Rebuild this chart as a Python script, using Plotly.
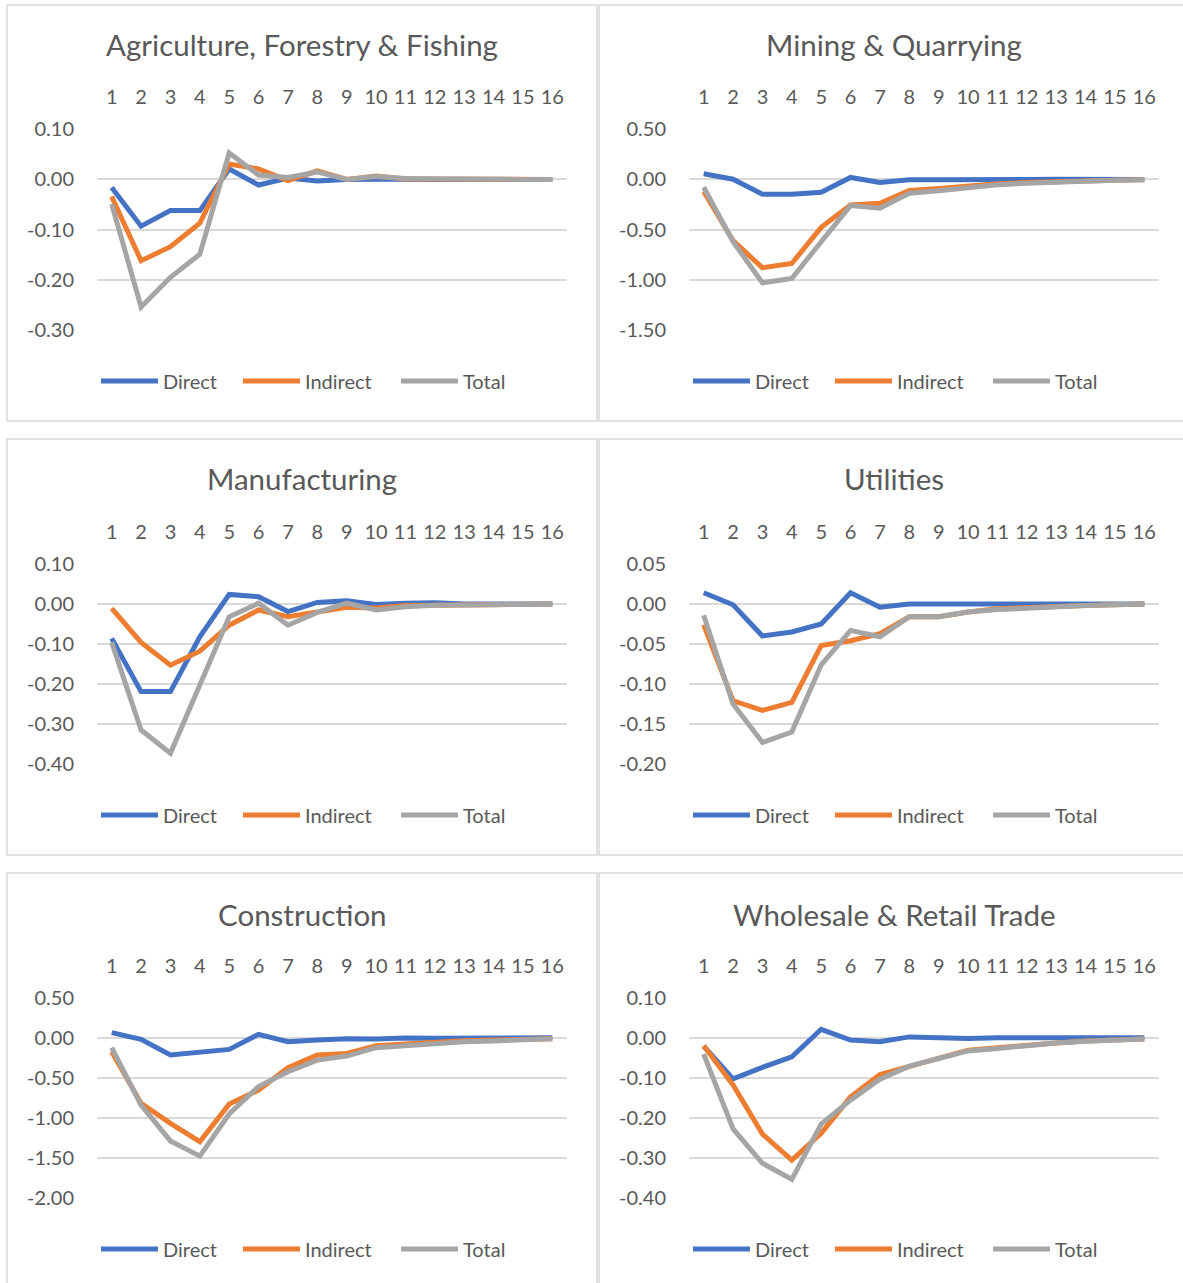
import plotly.graph_objects as go

periods = list(range(1, 17))
sectors = ["Agriculture, Forestry & Fishing", "Mining & Quarrying", "Manufacturing",
           "Utilities", "Construction", "Wholesale & Retail Trade"]
series_names = ["Direct", "Indirect", "Total"]

agri_direct = [-0.016, -0.093, -0.062, -0.062, 0.021, -0.011, 0.003, -0.003, 0.000, 0.001, 0.001, 0.000, 0.000, 0.000, 0.000, 0.000]
agri_indirect = [-0.034, -0.162, -0.134, -0.087, 0.031, 0.021, -0.002, 0.017, 0.000, 0.007, 0.001, 0.001, 0.001, 0.000, 0.000, 0.000]
agri_total = [-0.049, -0.254, -0.195, -0.149, 0.053, 0.009, 0.004, 0.015, 0.000, 0.006, 0.002, 0.001, 0.001, 0.000, 0.000, 0.000]

mining_direct = [0.057, 0.003, -0.147, -0.147, -0.127, 0.020, -0.030, -0.003, -0.003, -0.005, 0.005, 0.000, 0.002, 0.001, 0.000, 0.000]
mining_indirect = [-0.120, -0.610, -0.880, -0.837, -0.477, -0.253, -0.237, -0.110, -0.090, -0.063, -0.043, -0.030, -0.020, -0.013, -0.007, -0.003]
mining_total = [-0.077, -0.620, -1.030, -0.987, -0.620, -0.260, -0.287, -0.137, -0.113, -0.080, -0.053, -0.037, -0.023, -0.013, -0.007, -0.003]

manuf_direct = [-0.086, -0.219, -0.219, -0.082, 0.024, 0.018, -0.019, 0.004, 0.008, -0.001, 0.002, 0.003, 0.000, 0.000, 0.001, 0.000]
manuf_indirect = [-0.011, -0.096, -0.153, -0.118, -0.053, -0.015, -0.032, -0.019, -0.008, -0.010, -0.004, -0.003, -0.003, -0.002, -0.001, 0.000]
manuf_total = [-0.096, -0.315, -0.373, -0.200, -0.032, 0.002, -0.053, -0.021, 0.002, -0.015, -0.007, -0.003, -0.004, -0.002, -0.001, 0.000]

util_direct = [0.014, -0.001, -0.040, -0.035, -0.025, 0.014, -0.004, 0.000, 0.000, 0.000, 0.000, 0.000, 0.000, 0.000, 0.000, 0.000]
util_indirect = [-0.026, -0.121, -0.133, -0.123, -0.052, -0.046, -0.037, -0.016, -0.016, -0.010, -0.006, -0.004, -0.003, -0.002, -0.001, 0.000]
util_total = [-0.014, -0.125, -0.173, -0.160, -0.076, -0.033, -0.041, -0.016, -0.016, -0.010, -0.007, -0.005, -0.003, -0.002, -0.001, 0.000]

constr_direct = [0.063, -0.021, -0.217, -0.188, -0.146, 0.042, -0.050, -0.029, -0.013, -0.017, -0.004, -0.008, -0.004, -0.004, -0.004, 0.000]
constr_indirect = [-0.175, -0.820, -1.070, -1.300, -0.830, -0.654, -0.375, -0.217, -0.196, -0.100, -0.079, -0.054, -0.038, -0.029, -0.021, -0.013]
constr_total = [-0.125, -0.842, -1.290, -1.480, -0.954, -0.610, -0.425, -0.280, -0.230, -0.125, -0.100, -0.070, -0.050, -0.040, -0.025, -0.013]

trade_direct = [-0.021, -0.103, -0.074, -0.048, 0.021, -0.006, -0.010, 0.002, 0.000, -0.002, 0.000, 0.000, 0.000, 0.000, 0.000, 0.000]
trade_indirect = [-0.020, -0.118, -0.241, -0.306, -0.239, -0.148, -0.092, -0.071, -0.052, -0.031, -0.025, -0.018, -0.013, -0.008, -0.006, -0.003]
trade_total = [-0.041, -0.228, -0.314, -0.354, -0.216, -0.156, -0.104, -0.071, -0.052, -0.033, -0.027, -0.019, -0.013, -0.009, -0.006, -0.003]

# y-axis tick values per panel
agri_ticks = [0.10, 0.00, -0.10, -0.20, -0.30]
mining_ticks = [0.50, 0.00, -0.50, -1.00, -1.50]
manuf_ticks = [0.10, 0.00, -0.10, -0.20, -0.30, -0.40]
util_ticks = [0.05, 0.00, -0.05, -0.10, -0.15, -0.20]
constr_ticks = [0.50, 0.00, -0.50, -1.00, -1.50, -2.00]
trade_ticks = [0.10, 0.00, -0.10, -0.20, -0.30, -0.40]

panel_data = [
    (agri_direct, agri_indirect, agri_total, agri_ticks),
    (mining_direct, mining_indirect, mining_total, mining_ticks),
    (manuf_direct, manuf_indirect, manuf_total, manuf_ticks),
    (util_direct, util_indirect, util_total, util_ticks),
    (constr_direct, constr_indirect, constr_total, constr_ticks),
    (trade_direct, trade_indirect, trade_total, trade_ticks),
]

# ---- styling / layout ----
W, H = 1183, 1283
colors = ["#4472C4", "#ED7D31", "#A5A5A5"]
legend_widths = [70, 86, 50]
text_color = "#595959"
grid_color = "#D9D9D9"
FONT = "Lato"

col_x = [(97, 567), (689, 1159)]           # plot area left/right (px)
col_center = [302, 894]
col_legend = [96, 688]
col_border = [(7, 597), (599, 1189)]
row_plot = [(129.3, 330), (564, 764), (997.7, 1197.7)]  # top/bottom (px)
row_title = [45, 479, 914]
row_legend = [381, 815, 1249]
row_border = [(5, 421), (439, 855), (873, 1289)]

def py(v):
    return 1 - v / H

def px(v):
    return v / W

fig = go.Figure()
layout = dict(
    width=W, height=H, autosize=False,
    margin=dict(l=0, r=0, t=0, b=0, pad=0, autoexpand=False),
    paper_bgcolor="white", plot_bgcolor="white",
    font=dict(family=FONT, color=text_color, size=20),
    annotations=[], shapes=[],
)

for i, (d, ind, tot, ticks) in enumerate(panel_data):
    r, c = divmod(i, 2)
    k = i + 1
    xa = "x" if k == 1 else f"x{k}"
    ya = "y" if k == 1 else f"y{k}"
    lg = "legend" if k == 1 else f"legend{k}"
    for name, vals, col, lw in zip(series_names, (d, ind, tot), colors, legend_widths):
        fig.add_trace(go.Scatter(
            x=periods, y=vals, name=name, mode="lines",
            line=dict(color=col, width=5, shape="linear"),
            xaxis=xa, yaxis=ya, legend=lg, legendwidth=lw,
        ))
    x0, x1 = col_x[c]
    top, bot = row_plot[r]
    layout[f"xaxis{'' if k == 1 else k}"] = dict(
        domain=[px(x0), px(x1)], anchor=ya, side="top",
        range=[0.5, 16.5], tickmode="array", tickvals=periods,
        ticktext=[str(p) for p in periods],
        showgrid=False, zeroline=False, showline=False, ticks="",
        ticklabelstandoff=20, tickfont=dict(size=20, color=text_color),
        fixedrange=True, automargin=False,
    )
    layout[f"yaxis{'' if k == 1 else k}"] = dict(
        domain=[py(bot), py(top)], anchor=xa,
        range=[min(ticks), max(ticks)], tickmode="array", tickvals=ticks,
        ticktext=[f"{t:.2f}" for t in ticks],
        showgrid=True, gridcolor=grid_color, gridwidth=1.5,
        zeroline=False, showline=False, ticks="",
        ticklabelstandoff=22, tickfont=dict(size=20, color=text_color),
        fixedrange=True, automargin=False,
    )
    layout[lg] = dict(
        orientation="h", x=px(col_legend[c]), xanchor="left",
        y=py(row_legend[r]), yanchor="middle",
        font=dict(size=20, color=text_color), itemwidth=57,
        bgcolor="rgba(0,0,0,0)",
    )
    layout["annotations"].append(dict(
        text=sectors[i], xref="paper", yref="paper",
        x=px(col_center[c]), y=py(row_title[r]), xanchor="center", yanchor="middle",
        showarrow=False, font=dict(size=29.5, color=text_color, family=FONT),
    ))
    bx0, bx1 = col_border[c]
    by0, by1 = row_border[r]
    layout["shapes"].append(dict(
        type="rect", xref="paper", yref="paper",
        x0=px(bx0), x1=px(bx1), y0=py(by1), y1=py(by0),
        line=dict(color=grid_color, width=1.5), fillcolor="rgba(0,0,0,0)",
        layer="below",
    ))

fig.update_layout(**layout)
fig.write_html("out.html", config={"displayModeBar": False},
               post_script="document.body.style.margin='0px';document.body.style.overflow='hidden';")
